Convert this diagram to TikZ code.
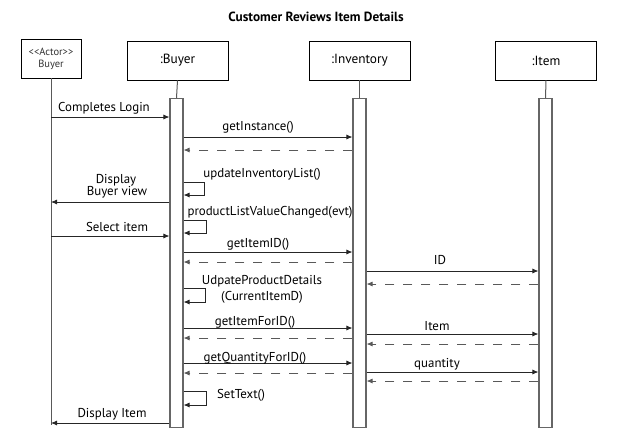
\documentclass[tikz,border=0pt]{standalone}
\usepackage{fontspec}
\setmainfont{PT Sans}
\usetikzlibrary{arrows.meta}

\tikzset{
  objbox/.style={draw=black, line width=0.9pt, minimum width=101pt, minimum height=39pt, inner sep=0pt, font=\fontsize{13.3}{15}\selectfont},
  actbar/.style={draw=black!60, line width=1.1pt, fill=white, minimum width=13pt, minimum height=329pt, inner sep=0pt, anchor=north},
  lifeline/.style={draw=black!65, line width=1pt},
  msg/.style={draw=black!85, line width=0.8pt, -{Latex[length=6pt,width=5pt]}},
  ret/.style={draw=black!65, line width=0.8pt, dash pattern=on 9pt off 9pt, -{Latex[length=6pt,width=5pt]}},
  lbl/.style={font=\fontsize{12.9}{14}\selectfont, inner sep=0pt, anchor=base},
}

\begin{document}
\begin{tikzpicture}[x=1pt, y=-1pt]
			%%%%% FRAME %%%%%
			\useasboundingbox (0,0) rectangle (626,445);
			\node[font=\bfseries\fontsize{13.3}{15}\selectfont, anchor=base] (title) at (316,21) {Customer Reviews Item Details};
			
			%%%%% OBJECTS %%%%%
			\node[objbox, minimum width=60pt, align=center, font=\fontsize{10.5}{12}\selectfont, text=black!80] (actor) at (51,58.5) {<{}<Actor>{}>\\Buyer};
			\node[objbox] (buyer) at (177.5,60.5) {:Buyer};
			\node[objbox] (inventory) at (359.5,60.5) {:Inventory};
			\node[objbox] (item) at (546,60.5) {:Item};
			
			\coordinate (actorend) at (51,425);
			\draw[lifeline] (actor.south) -- (actorend);
			
			\node[actbar] (buyerbar) at (176.5,98) {};
			\node[actbar] (invbar) at (359.5,98) {};
			\node[actbar] (itembar) at (545.5,98) {};
			
			\draw[lifeline] (buyer.south) -- (buyerbar.north);
			\draw[lifeline] (inventory.south) -- (invbar.north);
			\draw[lifeline] (item.south) -- (itembar.north);
			
			%%%%% MESSAGES %%%%%
			\draw[msg] (actor.south |- 0,117) -- (buyerbar.west |- 0,117);
			\node[lbl] at (104,111) {Completes Login};
			
			\draw[msg] (buyerbar.east |- 0,137) -- (invbar.west |- 0,137);
			\node[lbl] at (258,130) {getInstance()};
			\draw[ret] (invbar.west |- 0,150) -- (buyerbar.east |- 0,150);
			
			\draw[msg] (buyerbar.east |- 0,182) -- ++(21,0) |- (buyerbar.east |- 0,195);
			\node[lbl] at (262,177) {updateInventoryList()};
			
			\draw[msg] (buyerbar.west |- 0,202) -- (actorend |- 0,202);
			\node[lbl] at (116,183) {Display};
			\node[lbl] at (117,195) {Buyer view};
			
			\draw[msg] (buyerbar.east |- 0,220) -- ++(23,0) |- (buyerbar.east |- 0,233);
			\node[lbl] at (270,215) {productListValueChanged(evt)};
			
			\draw[msg] (actorend |- 0,236) -- (buyerbar.west |- 0,236);
			\node[lbl] at (117,231) {Select item};
			
			\draw[msg] (buyerbar.east |- 0,252) -- (invbar.west |- 0,252);
			\node[lbl] at (258,247) {getItemID()};
			\draw[ret] (invbar.west |- 0,262) -- (buyerbar.east |- 0,262);
			
			\draw[msg] (invbar.east |- 0,271) -- (itembar.west |- 0,271);
			\node[lbl] at (440,264) {ID};
			\draw[ret] (itembar.west |- 0,284) -- (invbar.east |- 0,284);
			
			\draw[msg] (buyerbar.east |- 0,288) -- ++(22,0) |- (buyerbar.east |- 0,302);
			\node[lbl] at (262,284) {UdpateProductDetails};
			\node[lbl] at (262,300) {(CurrentItemD)};
			
			\draw[msg] (buyerbar.east |- 0,328) -- (invbar.west |- 0,328);
			\node[lbl] at (255,325) {getItemForID()};
			\draw[ret] (invbar.west |- 0,338) -- (buyerbar.east |- 0,338);
			
			\draw[msg] (invbar.east |- 0,334) -- (itembar.west |- 0,334);
			\node[lbl] at (437,330) {Item};
			\draw[ret] (itembar.west |- 0,344) -- (invbar.east |- 0,344);
			
			\draw[msg] (buyerbar.east |- 0,363) -- (invbar.west |- 0,363);
			\node[lbl] at (255,361) {getQuantityForID()};
			\draw[ret] (invbar.west |- 0,373) -- (buyerbar.east |- 0,373);
			
			\draw[msg] (invbar.east |- 0,372) -- (itembar.west |- 0,372);
			\node[lbl] at (437,367) {quantity};
			\draw[ret] (itembar.west |- 0,381) -- (invbar.east |- 0,381);
			
			\draw[msg] (buyerbar.east |- 0,391) -- ++(23,0) |- (buyerbar.east |- 0,405);
			\node[lbl] at (241,398) {SetText()};
			
			\draw[msg] (buyerbar.west |- 0,423) -- (actorend |- 0,423);
			\node[lbl] at (112,417) {Display Item};
			
			%%%%% END %%%%%
\end{tikzpicture}
\end{document}
